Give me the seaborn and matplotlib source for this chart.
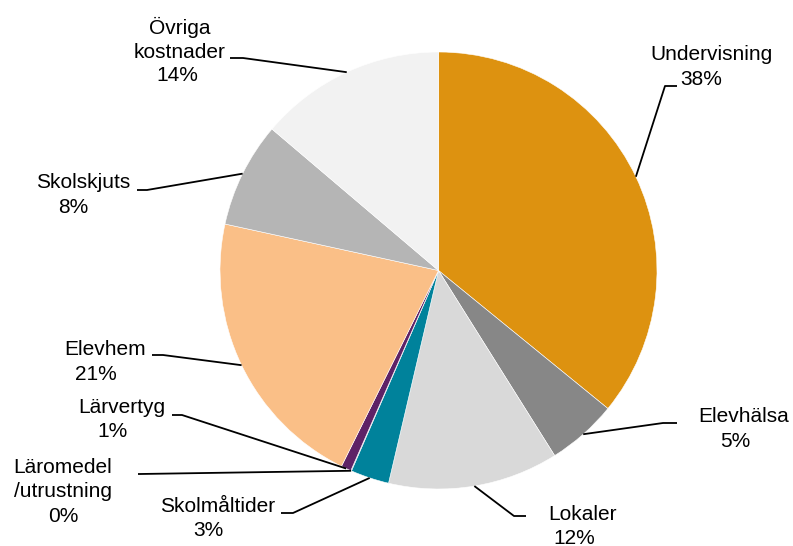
import numpy as np
import matplotlib
matplotlib.use('Agg')
import matplotlib.pyplot as plt
import seaborn as sns

# Data (slice shares, labels as printed)
categories = ["Undervisning", "Elevhälsa", "Lokaler", "Skolmåltider",
              "Läromedel\n/utrustning", "Lärvertyg", "Elevhem", "Skolskjuts",
              "Övriga\nkostnader"]
shares = [35.9, 5.2, 12.6, 2.85, 0.05, 0.75, 21.1, 7.8, 13.8]
pct_labels = ["38%", "5%", "12%", "3%", "0%", "1%", "21%", "8%", "14%"]
colors = ["#DD9210", "#878787", "#D9D9D9", "#00829B", "#1F4E79",
          "#5E2266", "#FABF87", "#B5B5B5", "#F2F2F2"]

# Label layout in pixels: name centre, pct centre, leader elbow, leader end
name_pos = [(712, 55), (744, 417), (582, 515), (218, 507), (63, 479.5),
            (122, 408), (105, 350), (83, 183), (180, 39.5)]
pct_pos = [(701, 80), (735, 442), (574, 538), (208, 530), (63, 517),
           (113, 432), (96, 375), (73, 208), (177, 76)]
elbows = [(665, 86), (663, 423), (514, 516), (293, 513), (140, 474),
          (182, 415), (163, 355), (147, 190), (243, 58)]
ends = [(677, 86), (677, 423), (526, 516), (281, 513), (138, 474),
        (172, 415), (152, 355), (137, 190), (230, 58)]

W, H = 793, 546
CX, CY, R = 438.5, 270.5, 218.5


def px(p):
    # pixel -> data coords (pie has radius 1 at origin)
    return ((p[0] - CX) / R, (CY - p[1]) / R)


sns.set_theme(style="white")
plt.rcParams['font.family'] = ['Liberation Sans', 'DejaVu Sans']

fig = plt.figure(figsize=(W / 100, H / 100), dpi=100)
ax = fig.add_axes([0, 0, 1, 1])

wedges, _ = ax.pie(shares, colors=colors, startangle=90, counterclock=False,
                   radius=1, center=(0, 0),
                   wedgeprops=dict(edgecolor="white", linewidth=0.4))

fs = 15
for w, name, pct, npos, ppos, elb, end in zip(wedges, categories, pct_labels,
                                               name_pos, pct_pos, elbows, ends):
    mid = np.deg2rad((w.theta1 + w.theta2) / 2)
    start = (np.cos(mid), np.sin(mid))
    e1, e2 = px(elb), px(end)
    ax.plot([start[0], e1[0], e2[0]], [start[1], e1[1], e2[1]],
            color="black", lw=1.3, solid_capstyle="butt")
    nx, ny = px(npos)
    ax.text(nx, ny, name, ha="center", va="center", fontsize=fs,
            linespacing=1.3, color="black")
    qx, qy = px(ppos)
    ax.text(qx, qy, pct, ha="center", va="center", fontsize=fs, color="black")

ax.set_xlim(-CX / R, (W - CX) / R)
ax.set_ylim((CY - H) / R, CY / R)
ax.set_aspect("equal")
ax.axis("off")

fig.savefig("out.png", dpi=100)
plt.close(fig)
